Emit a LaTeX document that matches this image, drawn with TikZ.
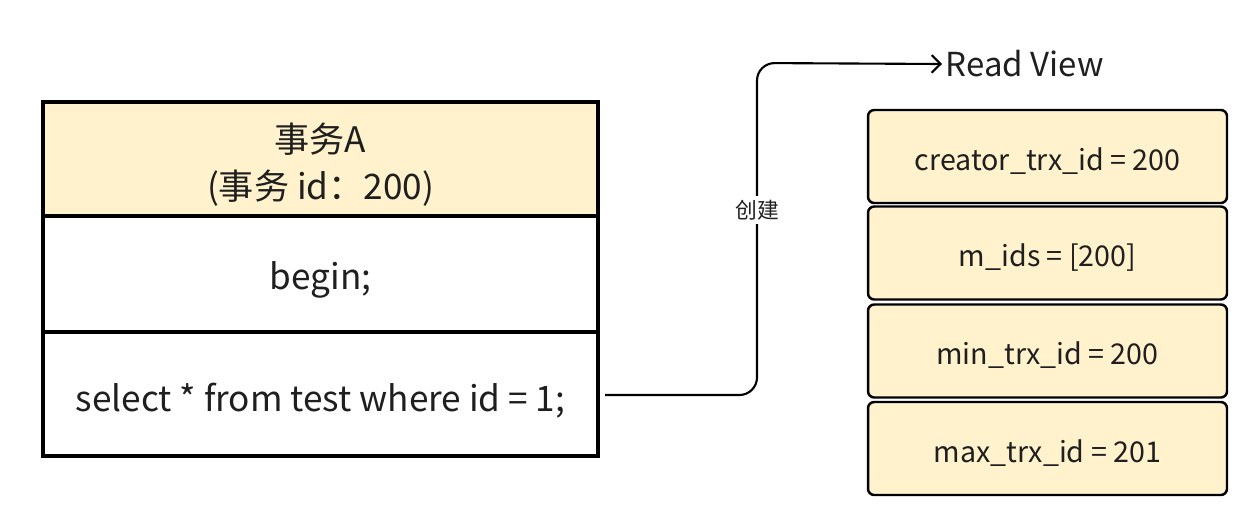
\documentclass[tikz,border=0pt]{standalone}
\usepackage{fontspec}
\setmainfont{Noto Sans CJK SC}
\usetikzlibrary{arrows.meta}
\definecolor{hdr}{HTML}{FFF2CC}
\definecolor{txt}{HTML}{1F1F1F}
\newcommand{\dnshift}[2]{\raisebox{-#1}[\height][\depth]{#2}}
\begin{document}
\begin{tikzpicture}[x=0.02cm,y=-0.02cm,
  row/.style={draw=black, line width=1.8pt, minimum width=11.1cm, inner sep=0pt, text=txt, align=center, font=\fontsize{20pt}{26.5pt}\selectfont},
  field/.style={draw=black, line width=1.4pt, fill=hdr, rounded corners=3.5pt, minimum width=7.18cm, minimum height=1.86cm, inner sep=0pt, text=txt, font=\fontsize{16.3pt}{20pt}\selectfont},
  conn/.style={draw=black, line width=1.2pt, rounded corners=10pt},
  lbl/.style={fill=white, text=txt, inner sep=2pt, font=\fontsize{12.4pt}{15pt}\selectfont}]
\useasboundingbox (0,0) rectangle (1256,504);
% left table
\node[row, fill=hdr, minimum height=2.28cm] (hd) at (320.5,159) {\dnshift{4.4pt}{\begin{tabular}{@{}c@{}}事务A\\(事务 id：200)\end{tabular}}};
\node[row, minimum height=2.32cm] (r2) at (320.5,274) {\dnshift{3.6pt}{begin;}};
\node[row, minimum height=2.48cm] (r3) at (320.5,394) {\dnshift{3.6pt}{select * from test where id = 1;}};
% right fields
\node[field] (f1) at (1047.5,156.5) {\dnshift{2.6pt}{creator\_trx\_id = 200}};
\node[field] (f2) at (1047.5,253) {\dnshift{2.6pt}{m\_ids = [200]}};
\node[field] (f3) at (1047.5,351) {\dnshift{2.6pt}{min\_trx\_id = 200}};
\node[field] (f4) at (1047.5,448.5) {\dnshift{2.6pt}{max\_trx\_id = 201}};
% read view label
\node[anchor=west, inner sep=2pt, text=txt, font=\fontsize{18.8pt}{22pt}\selectfont] (rv) at (942,64) {Read View};
% connector
\coordinate (s) at (605,395);
\draw[conn, -{Straight Barb[length=5pt,width=10pt]}] (s) -- (757,395) -- (757,63) -- (rv.west);
\node[lbl] (cj) at (757,210) {创建};
\end{tikzpicture}
\end{document}
